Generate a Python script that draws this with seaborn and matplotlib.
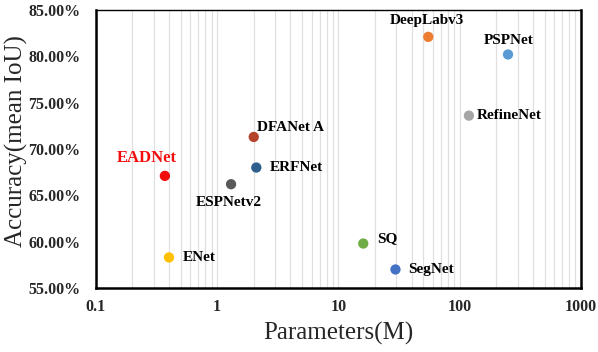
import matplotlib
matplotlib.use("Agg")
import matplotlib.pyplot as plt
import matplotlib.ticker as mticker
import seaborn as sns
import pandas as pd

models = ["EADNet", "ENet", "ESPNetv2", "DFANet A", "ERFNet", "DeepLabv3",
          "PSPNet", "RefineNet", "SQ", "SegNet"]
params_m = [0.37, 0.40, 1.30, 2.0, 2.1, 55.0, 250.0, 119.0, 16.0, 29.5]
accuracy = [67.1, 58.3, 66.2, 71.3, 68.0, 82.1, 80.2, 73.6, 59.8, 57.0]
colors = ["#F20C0C", "#FFC000", "#595959", "#B5432A", "#2E5F8C", "#ED7D31",
          "#5B9BD5", "#A5A5A5", "#70AD47", "#4472C4"]
x_ticks = [0.1, 1, 10, 100, 1000]
x_tick_labels = ["0.1", "1", "10", "100", "1000"]
y_ticks = [55, 60, 65, 70, 75, 80, 85]

df = pd.DataFrame({"model": models, "params": params_m, "acc": accuracy})

sns.set_style("white")
plt.rcParams["font.family"] = ["Liberation Serif", "DejaVu Serif"]

fig = plt.figure(figsize=(5.98, 3.52), dpi=100)
ax = fig.add_axes([0.1605, 0.1818, 0.8111, 0.7898])

sns.scatterplot(data=df, x="params", y="acc", hue="model", palette=colors,
                s=55, edgecolor="none", legend=False, ax=ax, zorder=3)

ax.set_xscale("log")
ax.set_xlim(0.1, 1000)
ax.set_ylim(55, 85)
ax.set_xticks(x_ticks)
ax.set_xticklabels(x_tick_labels)
ax.set_yticks(y_ticks)
ax.yaxis.set_major_formatter(mticker.FuncFormatter(lambda v, p: f"{v:.2f}%"))
ax.xaxis.set_minor_locator(mticker.LogLocator(base=10, subs=range(2, 10)))
ax.xaxis.set_minor_formatter(mticker.NullFormatter())

ax.grid(True, which="both", axis="x", color="#E0E0E0", linewidth=0.9, zorder=0)
ax.grid(False, axis="y")

for lab in ax.get_xticklabels() + ax.get_yticklabels():
    lab.set_fontweight("bold")
    lab.set_fontsize(11.5)
ax.tick_params(axis="x", which="major", direction="in", length=4, width=1, pad=8, color="black")
ax.tick_params(axis="x", which="minor", direction="in", length=3, width=1, color="black")
ax.tick_params(axis="y", which="both", length=0, pad=11)

for side in ["left", "bottom", "right"]:
    ax.spines[side].set_linewidth(1.8)
    ax.spines[side].set_color("black")
ax.spines["top"].set_linewidth(1.0)
ax.spines["top"].set_color("black")

ax.set_xlabel("Parameters(M)", fontsize=18, labelpad=5)
ax.set_ylabel("Accuracy(mean IoU)", fontsize=18)
ax.yaxis.set_label_coords(-0.14, 0.53)

# label offsets (points) and alignment per model
offsets = {
    "EADNet": ((-13, 13), "center"),
    "ENet": ((10, 0), "left"),
    "ESPNetv2": ((-1.5, -13), "center"),
    "DFANet A": ((2, 7), "left"),
    "ERFNet": ((10, 0), "left"),
    "DeepLabv3": ((-0.7, 11.5), "center"),
    "PSPNet": ((0.7, 10), "center"),
    "RefineNet": ((6, 0), "left"),
    "SQ": ((10, 3.5), "left"),
    "SegNet": ((9, 0), "left"),
}
for m, x, y in zip(models, params_m, accuracy):
    (dx, dy), ha = offsets[m]
    col = "#F20C0C" if m == "EADNet" else "black"
    fs = 12 if m == "EADNet" else 11
    ax.annotate(m, (x, y), xytext=(dx, dy), textcoords="offset points",
                ha=ha, va="center", fontsize=fs, fontweight="bold", color=col)

fig.savefig("out.png", dpi=100)
